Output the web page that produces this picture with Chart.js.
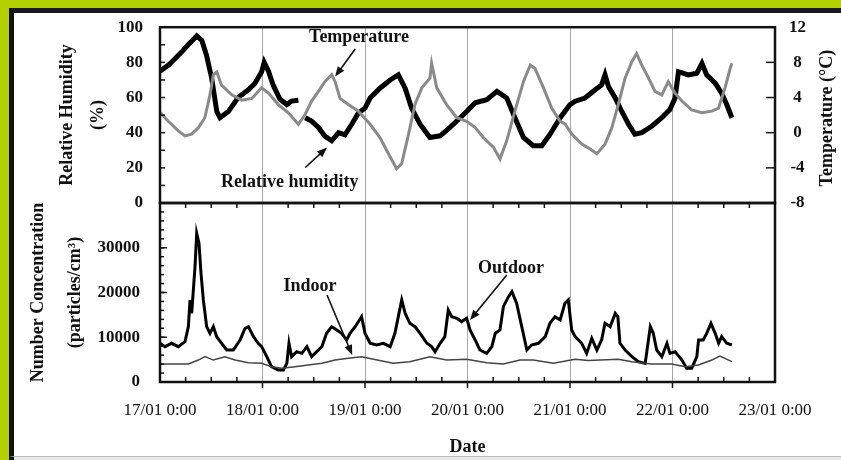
<!DOCTYPE html>
<html><head><meta charset="utf-8">
<script src="https://cdn.jsdelivr.net/npm/chart.js@4"></script>
<style>
html,body{margin:0;padding:0;}
body{width:841px;height:460px;background:#b4d000;position:relative;overflow:hidden;}
#panel{position:absolute;left:9px;top:8px;width:834px;height:449px;background:#fff;border-left:5px solid #111;border-top:5px solid #1a1a22;border-bottom:1px solid #bbb;box-sizing:border-box;}
#foot{position:absolute;left:9px;top:457px;width:834px;height:4px;background:#e8e8e8;border-left:5px solid #111;box-sizing:border-box;}
canvas{position:absolute;left:0;top:0;}
</style></head><body>
<div id="panel"></div><div id="foot"></div>
<canvas id="topChart" width="841" height="460"></canvas>
<canvas id="bottomChart" width="841" height="460"></canvas>
<script>
// ---- tick labels ----
const dayLabels = ['17/01 0:00','18/01 0:00','19/01 0:00','20/01 0:00','21/01 0:00','22/01 0:00','23/01 0:00'];
const rhTicks = [0,20,40,60,80,100];
const tempTicks = [-8,-4,0,4,8,12];
const concTicks = [0,10000,20000,30000];

// ---- series (x in hours since 17/01 0:00) ----
const rhHours = [0,2,3.5,5.1,6.6,8.6,9.8,10.9,12.1,13.3,14.05,16,18.3,20.7,22.2,23.8,24.4,25.4,26.5,28.1,29.7,30.8,32.4,33.2,34,35.5,37.1,38.6,40.2,41.8,43.3,44.9,46.4,48,49.2,51.5,53.9,55.8,57.4,58.9,60.9,63.2,65.6,67.9,70.3,71.8,73.8,76.5,78.9,81.2,83.1,85.1,87.4,89.4,91.3,93.7,96.0,97.2,99.5,101.9,103.4,104.2,105.0,106.6,108.1,109.7,111.2,112.8,115.2,117.5,119.4,120.6,121.4,123.7,125.7,126.9,128.0,130.0,131.5,132.7,133.9];
const rhValues = [75,78.5,82,86,90,95,92.5,84,71,52,48.5,52,60,64.4,68,74.7,80,75,67,59,56,58,58.5,null,48.5,46.6,43,38,35.4,40,38.8,44.8,51,54,59.7,65.3,70,72.9,65.3,54,44.8,37.3,38.2,43,48.5,52,57,58.8,63.5,59.7,48.5,37.3,32.6,32.6,39,48.5,56,57.9,59.7,64.4,67.2,72.9,66.3,59.7,52.2,44.8,39.1,40,43.8,48.5,53.2,59.7,74.7,72.9,73.8,79.4,72.9,68.2,62.5,56,48.5];

const tempHours = [0,1.95,4.3,5.85,7.4,9.0,10.5,11.7,12.5,13.3,14.4,16.8,19.1,21.5,23.8,25.4,27.7,30.05,32.4,34.0,35.5,37.1,38.6,40.2,41.0,42.15,44.1,46.45,49.2,51.5,53.5,55.4,56.6,58.2,59.7,61.3,63.2,63.6,64.8,67.1,69.5,71.8,73.8,75.7,78.1,79.6,81.2,83.1,85.1,86.7,87.8,89.8,91.7,93.7,94.85,96.4,98.75,100.7,102.3,104.2,105.8,107.3,108.9,110.5,111.6,112.8,114.4,115.9,117.5,119.0,120.6,122.2,124.5,126.9,129.2,130.8,132.3,133.5,133.9];
const tempValues = [2.3,1.3,0.2,-0.36,-0.17,0.57,1.7,4.3,6.6,6.9,5.4,4.3,3.7,3.9,5.1,4.5,3.2,2.26,0.96,2.1,3.6,4.7,5.8,6.6,5.8,3.9,3.2,2.45,0.96,-0.55,-2.4,-4.1,-3.5,-0.17,3.2,5.1,6.2,7.9,5.1,3.2,1.7,1.3,0.57,-0.55,-1.67,-3.0,-0.9,2.45,5.8,7.7,7.3,5.1,2.8,1.3,1.0,-0.17,-1.3,-1.85,-2.4,-1.3,0.57,3.2,6.2,8.1,9.0,7.7,6.2,4.7,4.3,5.8,4.5,3.6,2.6,2.26,2.45,2.8,5.1,7.3,7.9];

const outdoorHours = [0,1.17,2.73,4.29,5.85,6.64,7.03,7.42,8.2,8.59,9.13,9.6,10.15,10.93,11.71,12.49,13.27,14.44,15.61,17.17,18.74,19.9,20.7,21.9,23.0,23.8,25.0,26.1,27.7,28.9,29.7,30.2,30.8,32.0,33.2,34.4,35.5,36.7,37.9,39.0,40.2,41.4,42.5,43.7,44.5,45.7,47.2,48.0,49.2,50.7,52.3,53.9,55.0,55.8,56.6,57.4,58.5,59.7,60.9,62.5,63.6,64.4,65.6,66.7,67.5,68.3,69.5,70.6,71.8,72.6,73.8,74.9,76.5,77.7,78.5,79.6,80.4,81.6,82.4,83.5,84.7,85.9,87.0,88.6,90.2,91.3,92.5,93.7,94.8,95.6,96.4,97.2,98.75,99.9,101.1,102.3,103.4,104.2,105.4,106.6,107.2,107.7,108.9,110.5,112.0,113.6,114.8,115.5,116.3,117.5,118.7,119.4,120.6,122.2,123.3,124.5,125.7,126.1,127.2,128.0,129.0,130.0,130.8,131.5,132.7,133.9];
const outdoorValues = [8650,7900,8650,7900,9000,12360,18300,15350,25770,33230,31000,24300,18330,12360,10880,12360,10130,8650,7150,7150,9390,12000,12360,10130,8650,7900,5660,3430,2680,2680,4170,8650,5660,6780,6400,7900,5660,6780,7900,10880,12360,11620,10880,9390,10880,12360,14600,10880,8650,8270,8650,7900,10880,14600,18330,15350,13120,12360,10880,8650,7900,6780,8650,10130,16090,14600,14230,13500,14230,11620,9390,7150,6400,7900,10880,11620,16830,19070,20190,17590,12360,7150,8270,8650,10130,13120,14600,13860,17590,18330,11620,10130,8650,6400,9760,7150,9390,13120,12360,15350,14600,8650,7150,5660,4540,4170,12360,10880,7150,5660,8650,6400,6780,4900,3060,3060,5660,9390,9390,10880,13120,10880,8650,10130,8650,8270];

const indoorHours = [0,6.64,8.98,10.54,12.49,15.2,17.56,20.7,23.8,26.1,28.5,31.6,34.7,37.9,41.0,44.1,47.2,50.0,54.6,58.5,63.2,67.1,71.8,76.5,80.4,84.3,87.4,92.1,97.2,100.3,107.3,110.5,115.1,119.8,123.0,126.1,129.2,131.1,133.9];
const indoorValues = [4020,4020,4900,5660,4900,5660,4900,4320,4170,3430,3060,3430,3800,4170,4900,5290,5660,5070,4170,4540,5660,4900,5070,4320,4020,4900,4900,4170,5070,4780,5070,4540,4020,4020,3430,3800,4900,5810,4540];

const pts = (xs, ys) => xs.map((x, i) => ({x: x, y: ys[i]}));

const SERIF = '"Liberation Serif", "Times New Roman", serif';
const INK = '#111';

function arrow(ctx, x1, y1, x2, y2) {
  const ang = Math.atan2(y2 - y1, x2 - x1);
  const L = 10, W = 4;
  ctx.beginPath();
  ctx.moveTo(x1, y1);
  ctx.lineTo(x2 - Math.cos(ang) * L * 0.7, y2 - Math.sin(ang) * L * 0.7);
  ctx.lineWidth = 1.6; ctx.strokeStyle = INK; ctx.stroke();
  ctx.beginPath();
  ctx.moveTo(x2, y2);
  ctx.lineTo(x2 - Math.cos(ang) * L - Math.sin(ang) * W, y2 - Math.sin(ang) * L + Math.cos(ang) * W);
  ctx.lineTo(x2 - Math.cos(ang) * L + Math.sin(ang) * W, y2 - Math.sin(ang) * L - Math.cos(ang) * W);
  ctx.closePath(); ctx.fillStyle = INK; ctx.fill();
}

function drawNotes(chart, yId, notes) {
  const ctx = chart.ctx, xs = chart.scales.x, ys = chart.scales[yId];
  ctx.save();
  ctx.font = 'bold 18px ' + SERIF;
  ctx.fillStyle = INK; ctx.textAlign = 'center'; ctx.textBaseline = 'middle';
  notes.forEach(n => {
    ctx.fillText(n.text, xs.getPixelForValue(n.at[0]), ys.getPixelForValue(n.at[1]));
    arrow(ctx, xs.getPixelForValue(n.from[0]), ys.getPixelForValue(n.from[1]),
               xs.getPixelForValue(n.to[0]), ys.getPixelForValue(n.to[1]));
  });
  ctx.restore();
}

function frame(chart) {
  const ctx = chart.ctx, a = chart.chartArea;
  ctx.save();
  ctx.lineWidth = 2.5; ctx.strokeStyle = INK;
  ctx.strokeRect(a.left, a.top, a.right - a.left, a.bottom - a.top);
  ctx.restore();
}

function vTicks(ctx, scale, x, values, len) {
  values.forEach(v => {
    const y = scale.getPixelForValue(v);
    ctx.beginPath(); ctx.moveTo(x, y); ctx.lineTo(x + len, y); ctx.stroke();
  });
}

const topDecor = {
  id: 'topDecor',
  afterDraw(chart) {
    const ctx = chart.ctx, a = chart.chartArea;
    frame(chart);
    ctx.save();
    ctx.strokeStyle = INK; ctx.lineWidth = 1.5;
    const minor = []; for (let v = 10; v < 100; v += 10) minor.push(v);
    vTicks(ctx, chart.scales.yRH, a.left, minor, 5);
    vTicks(ctx, chart.scales.yT, a.right, tempTicks.slice(1, -1), -9);
    // right axis title
    ctx.fillStyle = INK; ctx.font = 'bold 18px ' + SERIF;
    ctx.textAlign = 'center'; ctx.textBaseline = 'middle';
    ctx.translate(chart.scales.yT.left + 52, (a.top + a.bottom) / 2 + 3);
    ctx.rotate(-Math.PI / 2);
    ctx.fillText('Temperature (\u00B0C)', 0, 0);
    ctx.restore();
    drawNotes(chart, 'yRH', [
      {text: 'Temperature', at: [46.6, 94.4], from: [45.7, 87.6], to: [41.0, 71.9]},
      {text: 'Relative humidity', at: [30.4, 11.8], from: [34.0, 20.2], to: [39.1, 31.5]}
    ]);
  }
};

const bottomDecor = {
  id: 'bottomDecor',
  afterDraw(chart) {
    const ctx = chart.ctx, a = chart.chartArea, xs = chart.scales.x;
    frame(chart);
    ctx.save();
    ctx.strokeStyle = INK; ctx.lineWidth = 1.5;
    const minor = []; for (let v = 2000; v < 40000; v += 2000) minor.push(v);
    vTicks(ctx, chart.scales.yC, a.left, minor, 4);
    vTicks(ctx, chart.scales.yC, a.left, concTicks.slice(1), 7);
    for (let h = 6; h < 144; h += 6) {
      const x = xs.getPixelForValue(h);
      if (h % 24 === 0) {
        ctx.beginPath(); ctx.moveTo(x, a.bottom); ctx.lineTo(x, a.bottom + 6); ctx.stroke();
      } else {
        ctx.beginPath(); ctx.moveTo(x, a.top); ctx.lineTo(x, a.top + 5); ctx.stroke();
        ctx.beginPath(); ctx.moveTo(x, a.bottom); ctx.lineTo(x, a.bottom - 5); ctx.stroke();
      }
    }
    ctx.restore();
    drawNotes(chart, 'yC', [
      {text: 'Indoor', at: [35.1, 21450], from: [39.1, 19440], to: [45.0, 6030]},
      {text: 'Outdoor', at: [82.2, 25470], from: [81.2, 23910], to: [72.6, 13850]}
    ]);
  }
};

const dayTicks = s => { s.ticks = dayLabels.map((_, i) => ({value: i * 24})); };
const fromList = list => s => { s.ticks = list.map(v => ({value: v})); };
const plain = v => String(v);
const tickFont = {family: SERIF, size: 17, weight: 'bold'};

new Chart(document.getElementById('topChart'), {
  type: 'line',
  data: {datasets: [
    {label: 'Temperature', data: pts(tempHours, tempValues), yAxisID: 'yT', borderColor: '#8a8a8a', borderWidth: 3, pointRadius: 0, tension: 0},
    {label: 'Relative humidity', data: pts(rhHours, rhValues), yAxisID: 'yRH', borderColor: '#000', borderWidth: 5, pointRadius: 0, tension: 0, spanGaps: false}
  ]},
  options: {
    responsive: false, animation: false, devicePixelRatio: 1,
    layout: {padding: {top: 25, left: 0, right: 0, bottom: 257}},
    plugins: {legend: {display: false}, tooltip: {enabled: false}},
    scales: {
      x: {type: 'linear', min: 0, max: 144, afterBuildTicks: dayTicks,
          ticks: {display: false}, grid: {color: '#a8a8a8', lineWidth: 1, drawTicks: false},
          border: {display: false}, afterFit: s => { s.height = 0; }},
      yRH: {position: 'left', min: 0, max: 100, afterBuildTicks: fromList(rhTicks),
          grid: {display: false, drawTicks: false}, border: {display: false},
          ticks: {font: tickFont, color: INK, padding: 17, callback: plain},
          title: {display: true, text: ['Relative Humidity', '(%)'], color: INK,
                  font: {family: SERIF, size: 18, weight: 'bold', lineHeight: '31px'}, padding: {top: 52, bottom: 0}},
          afterFit: s => { s.width = 160; }},
      yT: {position: 'right', min: -8, max: 12, afterBuildTicks: fromList(tempTicks),
          grid: {display: false, drawTicks: false}, border: {display: false},
          ticks: {font: tickFont, color: INK, padding: 14, crossAlign: 'center', callback: plain},
          afterFit: s => { s.width = 66; }}
    }
  },
  plugins: [topDecor]
});

new Chart(document.getElementById('bottomChart'), {
  type: 'line',
  data: {datasets: [
    {label: 'Indoor', data: pts(indoorHours, indoorValues), yAxisID: 'yC', borderColor: '#444', borderWidth: 1.5, pointRadius: 0, tension: 0},
    {label: 'Outdoor', data: pts(outdoorHours, outdoorValues), yAxisID: 'yC', borderColor: '#000', borderWidth: 3, pointRadius: 0, tension: 0}
  ]},
  options: {
    responsive: false, animation: false, devicePixelRatio: 1,
    layout: {padding: {top: 203, left: 0, right: 66, bottom: 0}},
    plugins: {legend: {display: false}, tooltip: {enabled: false}},
    scales: {
      x: {type: 'linear', min: 0, max: 144, afterBuildTicks: dayTicks,
          ticks: {color: INK, font: {family: SERIF, size: 17}, padding: 18,
                  callback: v => dayLabels[Math.round(v / 24)]},
          grid: {color: '#a8a8a8', lineWidth: 1, drawTicks: false}, border: {display: false},
          title: {display: true, text: 'Date', color: INK, font: {family: SERIF, size: 18, weight: 'bold'}, padding: {top: 0, bottom: 2}},
          afterFit: s => { s.height = 78; }},
      yC: {position: 'left', min: 0, max: 40000, afterBuildTicks: fromList(concTicks),
          grid: {display: false, drawTicks: false}, border: {display: false},
          ticks: {font: tickFont, color: INK, padding: 20, callback: plain},
          title: {display: true, text: ['Number Concentration', '(particles/cm\u00B3)'], color: INK,
                  font: {family: SERIF, size: 18, weight: 'bold', lineHeight: '37px'}, padding: {top: 20, bottom: 0}},
          afterFit: s => { s.width = 160; }}
    }
  },
  plugins: [bottomDecor]
});
</script></body></html>
